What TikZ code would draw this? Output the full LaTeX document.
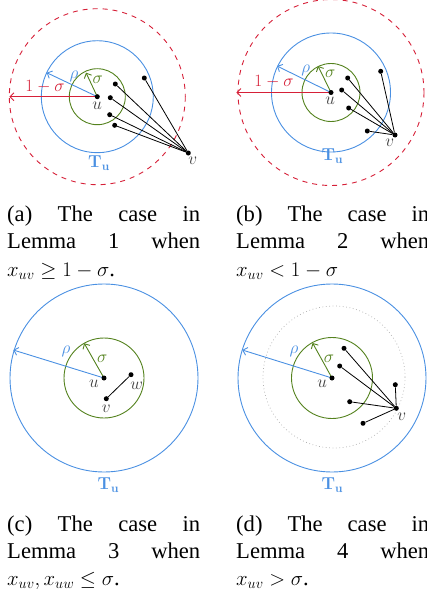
\documentclass[tikz,border=0pt]{standalone}
\usepackage[no-math]{fontspec}
\setmainfont{Liberation Serif}
\usetikzlibrary{arrows.meta}
\definecolor{blueC}{RGB}{74,144,226}
\definecolor{greenC}{RGB}{84,130,30}
\definecolor{redC}{RGB}{214,32,56}
\newcommand\capfont{\fontsize{22.6pt}{27.2pt}\selectfont}
\tikzset{
  x=1pt,y=-1pt,
  dotnode/.style={circle,fill=black,inner sep=0pt,minimum size=5pt},
  lbl/.style={inner sep=0pt,font=\fontsize{17pt}{19pt}\selectfont},
  greencirc/.style={draw=greenC,line width=0.9pt},
  bluecirc/.style={draw=blueC,line width=0.9pt},
  redcirc/.style={draw=redC,line width=0.9pt,dash pattern=on 5pt off 5pt},
  graycirc/.style={draw=black!30,line width=0.7pt,dash pattern=on 0.8pt off 2.6pt},
  arr/.style={line width=0.9pt,-{Straight Barb[length=4pt,width=8pt]}},
  edgeline/.style={draw=black,line width=0.8pt},
  capnode/.style={anchor=base west,inner sep=0pt}
}
\begin{document}
\begin{tikzpicture}
\useasboundingbox (0,0) rectangle (427,594);
% ---------------- panel (a)
\coordinate (uaC) at (97.3,96.7);
\draw[redcirc] (uaC) circle[radius=88];
\draw[bluecirc] (uaC) circle[radius=56];
\draw[greencirc] (uaC) circle[radius=28];
\coordinate (raT) at (9.3,96.7);
\coordinate (pa) at (46.7,72.7);
\coordinate (sa) at (86,72.7);
\draw[arr,redC] (uaC) -- (raT);
\draw[arr,blueC] (uaC) -- (pa);
\draw[arr,greenC] (uaC) -- (sa);
\node[dotnode] (ua) at (uaC) {};
\node[lbl,text=redC] (la1) at (45,86.5) {$1-\sigma$};
\node[lbl,text=blueC] (la2) at (74,76) {$\rho$};
\node[lbl,text=greenC] (la3) at (97.7,79.3) {$\sigma$};
\node[lbl,text=black!75] (lau) at (97.3,106) {$u$};
\node[lbl,text=blueC] (laT) at (99,163) {$\mathbf{T_u}$};
\node[dotnode] (va) at (188.3,153) {};
\node[lbl,text=black!75] (lav) at (192.7,161) {$v$};
\node[dotnode] (a1) at (115.3,84) {};
\node[dotnode] (a2) at (110.3,97.7) {};
\node[dotnode] (a3) at (109.7,114.7) {};
\node[dotnode] (a4) at (114.7,125.3) {};
\node[dotnode] (a5) at (144.3,78) {};
\foreach \n in {a1,a2,a3,a4,a5} \draw[edgeline] (\n) -- (va);
% ---------------- panel (b)
\coordinate (ubC) at (331,92.5);
\draw[redcirc] (ubC) circle[radius=93];
\draw[bluecirc] (ubC) circle[radius=59.5];
\draw[greencirc] (ubC) circle[radius=29];
\coordinate (rbT) at (236.3,92.5);
\coordinate (pb) at (277,66);
\coordinate (sb) at (318,66);
\draw[arr,redC] (ubC) -- (rbT);
\draw[arr,blueC] (ubC) -- (pb);
\draw[arr,greenC] (ubC) -- (sb);
\node[dotnode] (ub) at (ubC) {};
\node[lbl,text=redC] (lb1) at (274,81.7) {$1-\sigma$};
\node[lbl,text=blueC] (lb2) at (305.7,70) {$\rho$};
\node[lbl,text=greenC] (lb3) at (330.3,73.3) {$\sigma$};
\node[lbl,text=black!75] (lbu) at (330.3,100.7) {$u$};
\node[lbl,text=blueC] (lbT) at (332.3,156) {$\mathbf{T_u}$};
\node[dotnode] (vb) at (395,135) {};
\node[lbl,text=black!75] (lbv) at (389.7,142.7) {$v$};
\node[dotnode] (b1) at (347.7,78) {};
\node[dotnode] (b2) at (341.7,90) {};
\node[dotnode] (b3) at (348.7,108) {};
\node[dotnode] (b4) at (367.3,131) {};
\node[dotnode] (b5) at (380.7,71.3) {};
\foreach \n in {b1,b2,b3,b4,b5} \draw[edgeline] (\n) -- (vb);
% ---------------- panel (c)
\coordinate (ucC) at (104,378);
\draw[bluecirc] (ucC) circle[radius=94];
\draw[greencirc] (ucC) circle[radius=40];
\coordinate (pc) at (13.3,350);
\coordinate (sc) at (84.2,343.3);
\draw[arr,blueC] (ucC) -- (pc);
\draw[arr,greenC] (ucC) -- (sc);
\node[dotnode] (uc) at (ucC) {};
\node[lbl,text=blueC] (lc2) at (66,351.7) {$\rho$};
\node[lbl,text=greenC] (lc3) at (102.3,358.3) {$\sigma$};
\node[lbl,text=black!75] (lcu) at (94,383.3) {$u$};
\node[lbl,text=blueC] (lcT) at (108.3,485) {$\mathbf{T_u}$};
\node[dotnode] (wc) at (131,374.7) {};
\node[lbl,text=black!75] (lcw) at (136.7,385.3) {$w$};
\node[dotnode] (vc) at (106.3,398.7) {};
\node[lbl,text=black!75] (lcv) at (106.3,408.3) {$v$};
\draw[edgeline] (vc) -- (wc);
% ---------------- panel (d)
\coordinate (udC) at (332,378);
\draw[bluecirc] (udC) circle[radius=94];
\draw[graycirc] (334,377) circle[radius=71];
\draw[greencirc] (udC) circle[radius=40.5];
\coordinate (pd) at (242.3,350);
\coordinate (sd) at (312.6,343);
\draw[arr,blueC] (udC) -- (pd);
\draw[arr,greenC] (udC) -- (sd);
\node[dotnode] (ud) at (udC) {};
\node[lbl,text=blueC] (ld2) at (294,351.7) {$\rho$};
\node[lbl,text=greenC] (ld3) at (329,358.3) {$\sigma$};
\node[lbl,text=black!75] (ldu) at (322.3,383.3) {$u$};
\node[lbl,text=blueC] (ldT) at (332.3,485) {$\mathbf{T_u}$};
\node[dotnode] (vd) at (396.3,408.3) {};
\node[lbl,text=black!75] (ldv) at (401.7,416.7) {$v$};
\node[dotnode] (d1) at (344,348.3) {};
\node[dotnode] (d2) at (339.7,366) {};
\node[dotnode] (d3) at (395.3,384.7) {};
\node[dotnode] (d4) at (349.7,401.7) {};
\node[dotnode] (d5) at (363,423.3) {};
\foreach \n in {d1,d2,d3,d4,d5} \draw[edgeline] (\n) -- (vd);
% ---------------- captions
\node[capnode] (capa) at (7,221.7) {\parbox[t]{193pt}{\capfont\parindent=0pt
(a) The case in\linebreak Lemma 1 when\linebreak
$x_{uv}\geq 1-\sigma$.}};
\node[capnode] (capb) at (236,221.7) {\parbox[t]{193pt}{\capfont\parindent=0pt
(b) The case in\linebreak Lemma 2 when\linebreak
$x_{uv}<1-\sigma$}};
\node[capnode] (capc) at (7,531) {\parbox[t]{193pt}{\capfont\parindent=0pt
(c) The case in\linebreak Lemma 3 when\linebreak
$x_{uv},x_{uw}\leq\sigma$.}};
\node[capnode] (capd) at (236,531) {\parbox[t]{193pt}{\capfont\parindent=0pt
(d) The case in\linebreak Lemma 4 when\linebreak
$x_{uv}>\sigma$.}};
\end{tikzpicture}
\end{document}
